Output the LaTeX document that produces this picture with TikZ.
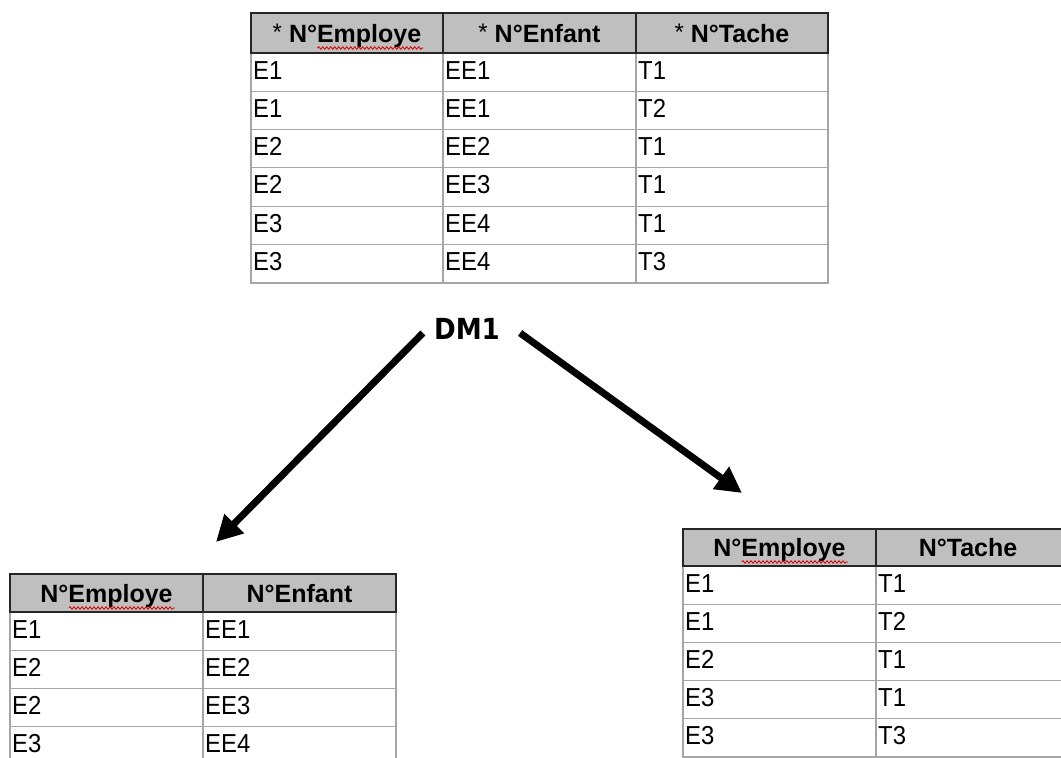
\documentclass[tikz,border=0pt]{standalone}
\usepackage{fontspec}
\setmainfont{Liberation Sans}
\newfontfamily\corps[FakeStretch=0.92]{Liberation Sans}
\newfontfamily\titre[FakeStretch=0.9]{DejaVu Sans}
\usetikzlibrary{calc, positioning, arrows.meta, decorations.pathmorphing}
\newcommand{\etoile}{{\mdseries\fontsize{24}{24}\selectfont\raisebox{2pt}{*}}\ }

\tikzset{
  entete/.style={draw=black!85, line width=1.6pt},
  grille/.style={draw=black!35, line width=1.1pt},
  titrecol/.style={anchor=base, inner sep=0pt, font=\fontsize{25}{25}\selectfont\bfseries},
  valeur/.style={anchor=base west, inner sep=0pt, font=\corps\fontsize{26}{26}\selectfont},
  souligne/.style={draw=red!85!black, line width=0.8pt, decorate, decoration={snake, amplitude=1.3pt, segment length=4pt}},
  fleche/.style={line width=7pt, -{Triangle[length=26pt,width=26pt]}}
}

\begin{document}
\begin{tikzpicture}[x=1pt, y=-1pt]
\useasboundingbox (0,0) rectangle (1061,758);
\clip (0,0) rectangle (1061,758);
\fill[white] (0,0) rectangle (1061,758);

\fill[black!25] (251,13) rectangle (828,53);
\draw[grille] (251,53) rectangle (828,283);
\draw[grille] \foreach \i in {1,...,5} {(251,{53+38.3*\i}) -- (828,{53+38.3*\i})};
\draw[grille] (443,53) -- (443,283) (636,53) -- (636,283);
\draw[entete] (251,13) rectangle (828,53) (443,13) -- (443,53) (636,13) -- (636,53);
\node[titrecol] (hEmp) at (347,42) {\etoile N°Employe};
\node[titrecol] (hEnf) at (539.5,42) {\etoile N°Enfant};
\node[titrecol] (hTac) at (732,42) {\etoile N°Tache};
\foreach \e/\f/\t [count=\i] in {E1/EE1/T1, E1/EE1/T2, E2/EE2/T1, E2/EE3/T1, E3/EE4/T1, E3/EE4/T3} {
  \node[valeur] (emp\i) at (253,{53+38.3*\i-12.3}) {\e};
  \node[valeur] (enf\i) at (445,{53+38.3*\i-12.3}) {\f};
  \node[valeur] (tac\i) at (638,{53+38.3*\i-12.3}) {\t};
}
\draw[souligne] ($(hEmp.base east)+(-104,6)$) -- ($(hEmp.base east)+(2,6)$);

\node[inner sep=0pt, font=\titre\fontsize{29}{29}\selectfont\bfseries] (dm) at (467,329) {DM1};
\coordinate (pointeG) at (216,542);
\coordinate (pointeD) at (742,493);
\draw[fleche] ([shift={(-11,4)}]dm.west) -- (pointeG);
\draw[fleche] ([shift={(20,4)}]dm.east) -- (pointeD);

\fill[black!25] (10,574) rectangle (396,612);
\draw[grille] (10,612) rectangle (396,770);
\draw[grille] \foreach \i in {1,...,3} {(10,{612+38.3*\i}) -- (396,{612+38.3*\i})};
\draw[grille] (203,612) -- (203,770);
\draw[entete] (10,574) rectangle (396,612) (203,574) -- (203,612);
\node[titrecol] (gEmp) at (106.5,602) {N°Employe};
\node[titrecol] (gEnf) at (299.5,602) {N°Enfant};
\foreach \e/\f [count=\i] in {E1/EE1, E2/EE2, E2/EE3, E3/EE4} {
  \node[valeur] (gemp\i) at (12,{612+38.3*\i-12.3}) {\e};
  \node[valeur] (genf\i) at (205,{612+38.3*\i-12.3}) {\f};
}
\draw[souligne] ($(gEmp.base east)+(-104,6)$) -- ($(gEmp.base east)+(2,6)$);

\fill[black!25] (683,529) rectangle (1070,566);
\draw[grille] (683,566) rectangle (1070,757);
\draw[grille] \foreach \i in {1,...,4} {(683,{566+38.2*\i}) -- (1070,{566+38.2*\i})};
\draw[grille] (876,566) -- (876,757);
\draw[entete] (683,529) rectangle (1070,566) (876,529) -- (876,566);
\node[titrecol] (dEmp) at (779.5,556) {N°Employe};
\node[titrecol] (dTac) at (968,556) {N°Tache};
\foreach \e/\t [count=\i] in {E1/T1, E1/T2, E2/T1, E3/T1, E3/T3} {
  \node[valeur] (demp\i) at (685,{566+38.2*\i-12.2}) {\e};
  \node[valeur] (dtac\i) at (878,{566+38.2*\i-12.2}) {\t};
}
\draw[souligne] ($(dEmp.base east)+(-104,6)$) -- ($(dEmp.base east)+(2,6)$);
\end{tikzpicture}
\end{document}
